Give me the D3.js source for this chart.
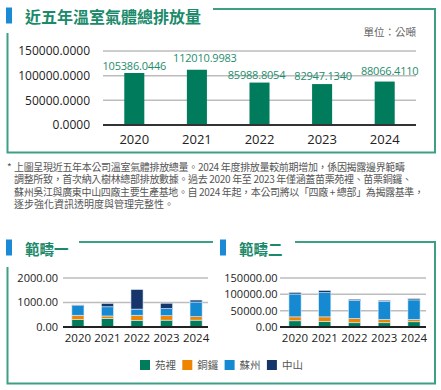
<!DOCTYPE html>
<html>
<head>
<meta charset="utf-8">
<script src="https://cdn.jsdelivr.net/npm/d3@7"></script>
<style>
  body { margin: 0; background: #fff; }
  svg { display: block; font-family: "Open Sans", "Noto Sans CJK TC", sans-serif; }
  .cjk { font-family: "Noto Sans CJK TC", sans-serif; }
</style>
</head>
<body>
<svg id="chart" width="441" height="390"></svg>
<script>
const years = ['2020', '2021', '2022', '2023', '2024'];
const totalEmissions = [105386.0446, 112010.9983, 85988.8054, 82947.1340, 88066.4110];
const totalTicks = [0, 50000, 100000, 150000];

const sites = ['苑裡', '銅鑼', '蘇州', '中山'];
const siteColors = ['#007b5c', '#ef8400', '#1689d3', '#15356b'];

// 範疇一 (公噸)
const scope1Yuanli = [300, 350, 275, 280, 280];
const scope1Tongluo = [180, 100, 205, 180, 140];
const scope1Suzhou = [390, 375, 250, 290, 600];
const scope1Zhongshan = [30, 140, 800, 220, 80];
const scope1Ticks = [0, 1000, 2000];

// 範疇二 (公噸)
const scope2Yuanli = [19000, 17000, 13000, 13000, 16000];
const scope2Tongluo = [12000, 14000, 13000, 10000, 7000];
const scope2Suzhou = [70000, 74000, 55000, 56000, 60000];
const scope2Zhongshan = [5000, 7000, 4000, 3000, 4000];
const scope2Ticks = [0, 50000, 100000, 150000];

const noteLines = [
  '上圖呈現近五年本公司溫室氣體排放總量。2024 年度排放量較前期增加，係因揭露邊界範疇',
  '調整所致，首次納入樹林總部排放數據。過去 2020 年至 2023 年僅涵蓋苗栗苑裡、苗栗銅鑼、',
  '蘇州吳江與廣東中山四廠主要生產基地。自 2024 年起，本公司將以「四廠 + 總部」為揭露基準，',
  '逐步強化資訊透明度與管理完整性。'
];

const frameColor = '#3f9f86';
const titleColor = '#1b8a6a';
const accentColor = '#1a8ad6';

// value label nudges so neighbouring labels don't collide (layout only)
const labelNudge = [[0, -3.5], [8, -7.5], [-3, -3.5], [1, -4.5], [5, -6.5]];
const noteWidths = [391, 398, 410, null];

const svg = d3.select('#chart');

// panel title with blue marker
function panelTitle(x, y, text, size) {
  svg.append('rect')
    .attr('x', x).attr('y', y - 15)
    .attr('width', 6).attr('height', 16)
    .attr('fill', accentColor);
  svg.append('text')
    .attr('class', 'cjk')
    .attr('x', x + 19).attr('y', y)
    .attr('fill', titleColor)
    .style('font-size', size + 'px')
    .style('font-weight', 'bold')
    .text(text);
}

function frameLine(points) {
  svg.append('path')
    .attr('d', d3.line()(points))
    .attr('fill', 'none')
    .attr('stroke', frameColor)
    .attr('stroke-width', 2);
}

// ---- top panel ----
panelTitle(6, 22.5, '近五年溫室氣體總排放量', 16);
frameLine([[213, 9], [435, 9], [435, 152.5], [7.5, 152.5], [7.5, 33]]);

svg.append('text')
  .attr('class', 'cjk')
  .attr('x', 416).attr('y', 36)
  .attr('text-anchor', 'end')
  .attr('fill', '#666')
  .style('font-size', '10.5px')
  .text('單位：公噸');

const x0 = d3.scaleBand().domain(years).range([103, 416]).paddingInner(0.68).paddingOuter(0.34);
const y0 = d3.scaleLinear().domain([0, 150000]).range([125, 51]);

const g0 = svg.append('g');
g0.selectAll('.grid')
  .data(totalTicks.filter(d => d > 0))
  .enter().append('line')
  .attr('x1', 103).attr('x2', 416)
  .attr('y1', d => y0(d)).attr('y2', d => y0(d))
  .attr('stroke', '#bdbdbd').attr('stroke-width', 1.5);

g0.selectAll('.bar')
  .data(totalEmissions)
  .enter().append('rect')
  .attr('x', (d, i) => x0(years[i]))
  .attr('y', d => y0(d))
  .attr('width', x0.bandwidth())
  .attr('height', d => y0(0) - y0(d))
  .attr('fill', '#007b5c');

g0.append('line')
  .attr('x1', 103).attr('x2', 416)
  .attr('y1', y0(0)).attr('y2', y0(0))
  .attr('stroke', '#333').attr('stroke-width', 2);

g0.selectAll('.ytick')
  .data(totalTicks)
  .enter().append('text')
  .attr('x', 90).attr('y', d => y0(d))
  .attr('dy', '0.35em')
  .attr('text-anchor', 'end')
  .attr('fill', '#222')
  .style('font-size', '12px')
  .text(d => d3.format('.4f')(d));

g0.selectAll('.xtick')
  .data(years)
  .enter().append('text')
  .attr('x', d => x0(d) + x0.bandwidth() / 2)
  .attr('y', 144)
  .attr('text-anchor', 'middle')
  .attr('fill', '#222')
  .style('font-size', '13px')
  .text(d => d);

g0.selectAll('.value')
  .data(totalEmissions)
  .enter().append('text')
  .attr('x', (d, i) => x0(years[i]) + x0.bandwidth() / 2 + labelNudge[i][0])
  .attr('y', (d, i) => y0(d) + labelNudge[i][1])
  .attr('text-anchor', 'middle')
  .attr('fill', '#1f8d6d')
  .style('font-size', '11px')
  .style('letter-spacing', '-0.2px')
  .text(d => d3.format('.4f')(d));

// ---- footnote ----
const note = svg.append('g').attr('class', 'cjk').attr('fill', '#555').style('font-size', '10px');
note.append('text').attr('x', 7).attr('y', 171).text('*');
note.selectAll('.line')
  .data(noteLines)
  .enter().append('text')
  .attr('x', 14)
  .attr('y', (d, i) => 171 + i * 12.4)
  .each(function(d, i) {
    if (noteWidths[i]) {
      d3.select(this).attr('textLength', noteWidths[i]).attr('lengthAdjust', 'spacing');
    }
  })
  .text(d => d);

// ---- bottom panels ----
frameLine([[79, 242], [213, 242]]);
frameLine([[295, 242], [435, 242], [435, 383.5], [7.5, 383.5], [7.5, 267]]);
panelTitle(6, 254.5, '範疇一', 14.5);
panelTitle(220, 254.5, '範疇二', 14.5);

function stackedChart(series, ticks, maxY, xRange, yRange, labelX, fmt) {
  const rows = years.map((yr, i) => {
    const r = { year: yr };
    sites.forEach((s, k) => { r[s] = series[k][i]; });
    return r;
  });
  const stack = d3.stack().keys(sites)(rows);
  const x = d3.scaleBand().domain(years).range(xRange).paddingInner(0.59).paddingOuter(0.3);
  const y = d3.scaleLinear().domain([0, maxY]).range(yRange);
  const g = svg.append('g');

  g.selectAll('.grid')
    .data(ticks.filter(d => d > 0))
    .enter().append('line')
    .attr('x1', xRange[0]).attr('x2', xRange[1] - 3)
    .attr('y1', d => y(d)).attr('y2', d => y(d))
    .attr('stroke', '#bdbdbd').attr('stroke-width', 1.5);

  g.selectAll('.layer')
    .data(stack)
    .enter().append('g')
    .attr('fill', (d, k) => siteColors[k])
    .selectAll('rect')
    .data(d => d)
    .enter().append('rect')
    .attr('x', d => x(d.data.year))
    .attr('y', d => y(d[1]))
    .attr('width', x.bandwidth())
    .attr('height', d => y(d[0]) - y(d[1]))
    .attr('stroke', '#dfeef8')
    .attr('stroke-width', 0.6);

  g.append('line')
    .attr('x1', xRange[0]).attr('x2', xRange[1] - 3)
    .attr('y1', y(0)).attr('y2', y(0))
    .attr('stroke', '#222').attr('stroke-width', 2);

  g.selectAll('.ytick')
    .data(ticks)
    .enter().append('text')
    .attr('x', labelX).attr('y', d => y(d))
    .attr('dy', '0.35em')
    .attr('text-anchor', 'end')
    .attr('fill', '#222')
    .style('font-size', '11px')
    .text(d => fmt(d));

  g.selectAll('.xtick')
    .data(years)
    .enter().append('text')
    .attr('x', d => x(d) + x.bandwidth() / 2)
    .attr('y', 341.5)
    .attr('text-anchor', 'middle')
    .attr('fill', '#222')
    .style('font-size', '11.5px')
    .text(d => d);
}

stackedChart([scope1Yuanli, scope1Tongluo, scope1Suzhou, scope1Zhongshan],
  scope1Ticks, 2000, [63, 211], [327, 278], 58, d3.format('.2f'));
stackedChart([scope2Yuanli, scope2Tongluo, scope2Suzhou, scope2Zhongshan],
  scope2Ticks, 150000, [280, 429], [327, 278], 277.5, d3.format('.2f'));

// ---- legend ----
const legend = svg.append('g').attr('transform', 'translate(140, 365)');
const item = legend.selectAll('.item')
  .data(sites)
  .enter().append('g')
  .attr('transform', (d, i) => `translate(${i * 42.3}, 0)`);
item.append('rect')
  .attr('x', 0).attr('y', -5)
  .attr('width', 10).attr('height', 10)
  .attr('fill', (d, i) => siteColors[i]);
item.append('text')
  .attr('class', 'cjk')
  .attr('x', 15).attr('y', 0)
  .attr('dy', '0.35em')
  .attr('fill', '#555')
  .style('font-size', '10.5px')
  .text(d => d);
</script>
</body>
</html>
